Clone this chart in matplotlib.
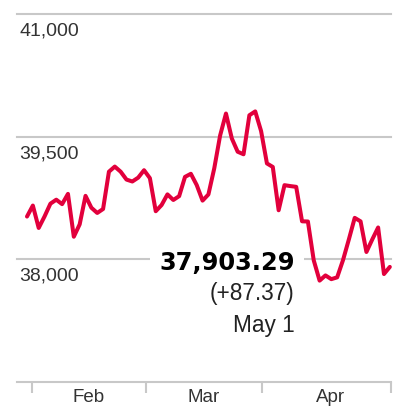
import matplotlib
matplotlib.use('Agg')
import matplotlib.pyplot as plt
import numpy as np

# Dow Jones daily closes, Feb 1 - May 1 2024 (trading days)
dates = ['Feb 1', 'Feb 2', 'Feb 5', 'Feb 6', 'Feb 7', 'Feb 8', 'Feb 9', 'Feb 12', 'Feb 13', 'Feb 14',
         'Feb 15', 'Feb 16', 'Feb 20', 'Feb 21', 'Feb 22', 'Feb 23', 'Feb 26', 'Feb 27', 'Feb 28', 'Feb 29',
         'Mar 1', 'Mar 4', 'Mar 5', 'Mar 6', 'Mar 7', 'Mar 8', 'Mar 11', 'Mar 12', 'Mar 13', 'Mar 14',
         'Mar 15', 'Mar 18', 'Mar 19', 'Mar 20', 'Mar 21', 'Mar 22', 'Mar 25', 'Mar 26', 'Mar 27', 'Mar 28',
         'Apr 1', 'Apr 2', 'Apr 3', 'Apr 4', 'Apr 5', 'Apr 8', 'Apr 9', 'Apr 10', 'Apr 11', 'Apr 12',
         'Apr 15', 'Apr 16', 'Apr 17', 'Apr 18', 'Apr 19', 'Apr 22', 'Apr 23', 'Apr 24', 'Apr 25', 'Apr 26',
         'Apr 29', 'Apr 30', 'May 1']
closes = [38519.84, 38654.42, 38380.12, 38521.36, 38677.36, 38726.33, 38671.69, 38797.38, 38272.75, 38424.27,
          38773.12, 38627.99, 38563.80, 38612.24, 39069.11, 39131.53, 39069.23, 38972.41, 38949.02, 38996.39,
          39087.38, 38989.83, 38585.19, 38661.05, 38791.35, 38722.69, 38769.66, 39005.49, 39043.32, 38905.66,
          38714.77, 38790.43, 39110.76, 39512.13, 39781.37, 39475.90, 39313.64, 39282.33, 39760.08, 39807.37,
          39566.85, 39170.24, 39127.14, 38596.98, 38904.04, 38892.80, 38883.67, 38461.51, 38459.08, 37983.24,
          37735.11, 37798.97, 37753.31, 37775.38, 37986.40, 38239.98, 38503.69, 38460.92, 38085.80, 38239.66,
          38386.09, 37815.92, 37903.29]

y_ticks = [38000, 39500, 41000]
y_tick_labels = ['38,000', '39,500', '41,000']
month_names = ['Feb', 'Mar', 'Apr']
month_bounds = [0.85, 20.3, 40.1, 62.2]
month_label_pos = [10.6, 30.2, 51.8]
last_label = '37,903.29'
change_label = '(+87.37)'
date_label = 'May 1'

GRID = '#c8c8c8'
RED = '#e2003c'
SANS = 'Liberation Sans'

W, H = 398, 410
fig = plt.figure(figsize=(W / 100, H / 100), dpi=100)
ax = fig.add_axes([16.7 / W, 1 - 382.5 / H, (391 - 16.7) / W, (382.5 - 15) / H])
ax.set_xlim(-1.76, 62.17)
ax.set_ylim(36500, 41000)

for s in ['top', 'left', 'right']:
    ax.spines[s].set_visible(False)
ax.spines['bottom'].set_color(GRID)
ax.spines['bottom'].set_linewidth(1.5)

ax.set_yticks([])
ax.set_xticks(month_bounds)
ax.set_xticklabels([])
ax.tick_params(axis='x', which='major', length=7.9, width=1.5, color=GRID, direction='out')
ax.set_xticks(month_label_pos, minor=True)
ax.set_xticklabels(month_names, minor=True)
ax.tick_params(axis='x', which='minor', length=0, pad=4.6, labelsize=13.5, labelcolor='#333333')
for lbl in ax.get_xticklabels(minor=True):
    lbl.set_family(SANS)

for v, lbl in zip(y_ticks, y_tick_labels):
    ax.axhline(v, color=GRID, lw=1.5, zorder=1, clip_on=False)
    ax.annotate(lbl, xy=(0, v), xycoords=('axes fraction', 'data'), xytext=(2.3, -21),
                textcoords='offset pixels', ha='left', va='baseline', fontsize=14,
                color='#333333', family=SANS)

x = np.arange(len(closes))
ax.plot(x, closes, color=RED, lw=2.9, solid_joinstyle='round', solid_capstyle='round',
        zorder=4, clip_on=False)

ax.annotate(last_label, xy=(x[-1], y_ticks[0]), xytext=(-95, -10), textcoords='offset pixels',
            ha='right', va='baseline', fontsize=17.4, fontweight='bold', family='DejaVu Sans',
            color='black', zorder=3,
            bbox=dict(boxstyle='square,pad=0.4', fc='white', ec='none'))
ax.annotate(change_label, xy=(x[-1], y_ticks[0]), xytext=(-95, -40), textcoords='offset pixels',
            ha='right', va='baseline', fontsize=16.3, family=SANS, color='#222222', zorder=3)
ax.annotate(date_label, xy=(x[-1], y_ticks[0]), xytext=(-95, -71.7), textcoords='offset pixels',
            ha='right', va='baseline', fontsize=16.3, family=SANS, color='#222222', zorder=3)

fig.savefig('out.png', dpi=100, facecolor='white')
